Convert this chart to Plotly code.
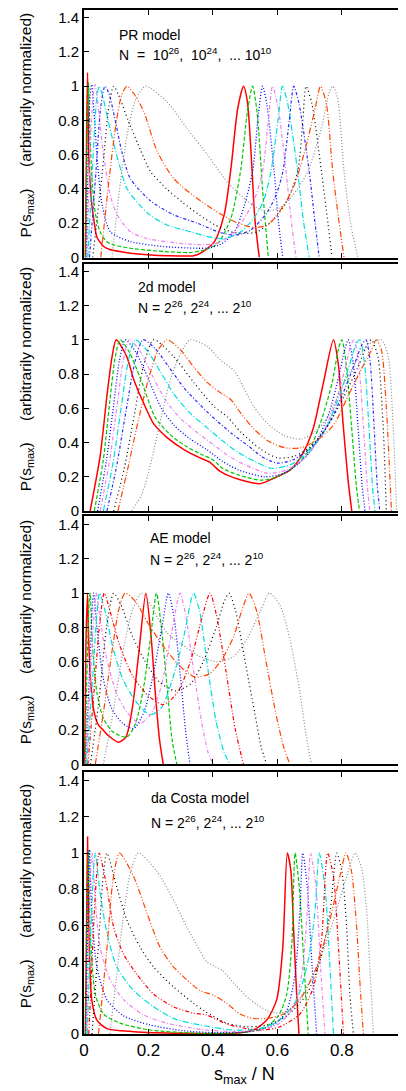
import plotly.graph_objects as go

# ---- PR model: (s_max/N, P) pairs, N = 10^26 ... 10^10
pr26 = [(0.004, 0), (0.008, 0.7), (0.011, 1.08), (0.015, 0.6), (0.022, 0.35), (0.032, 0.2), (0.04, 0.12),
        (0.061, 0.064), (0.082, 0.045), (0.123, 0.031), (0.144, 0.025), (0.197, 0.016), (0.26, 0.01),
        (0.34, 0.01), (0.362, 0.025), (0.404, 0.09), (0.435, 0.25), (0.456, 0.52), (0.477, 0.87),
        (0.495, 1.0), (0.507, 0.91), (0.52, 0.56), (0.53, 0.23), (0.544, 0)]
pr24 = [(0.005, 0), (0.01, 0.7), (0.014, 1.02), (0.019, 0.7), (0.026, 0.42), (0.036, 0.25), (0.05, 0.15),
        (0.07, 0.093), (0.092, 0.074), (0.144, 0.054), (0.247, 0.035), (0.327, 0.029), (0.367, 0.04),
        (0.414, 0.08), (0.456, 0.23), (0.487, 0.52), (0.507, 0.85), (0.523, 1.0), (0.537, 0.85),
        (0.554, 0.4), (0.572, 0)]
pr22 = [(0.007, 0), (0.013, 0.6), (0.019, 0.95), (0.024, 1.01), (0.031, 0.85), (0.042, 0.55), (0.057, 0.3),
        (0.082, 0.15), (0.144, 0.093), (0.247, 0.064), (0.352, 0.054), (0.387, 0.056), (0.427, 0.08),
        (0.467, 0.15), (0.497, 0.3), (0.523, 0.5), (0.542, 0.85), (0.554, 1.0), (0.567, 0.9),
        (0.59, 0.5), (0.604, 0.2), (0.617, 0)]
pr20 = [(0.009, 0), (0.019, 0.6), (0.027, 0.92), (0.034, 1.01), (0.043, 0.9), (0.057, 0.65), (0.082, 0.36),
        (0.103, 0.25), (0.144, 0.15), (0.197, 0.11), (0.297, 0.083), (0.362, 0.075), (0.407, 0.08),
        (0.447, 0.12), (0.487, 0.2), (0.527, 0.33), (0.554, 0.5), (0.572, 0.8), (0.585, 1.0),
        (0.602, 0.88), (0.627, 0.5), (0.644, 0.2), (0.658, 0)]
pr18 = [(0.012, 0), (0.027, 0.55), (0.039, 0.92), (0.047, 1.0), (0.057, 0.95), (0.077, 0.78), (0.107, 0.56),
        (0.134, 0.4), (0.197, 0.26), (0.257, 0.19), (0.331, 0.15), (0.387, 0.12), (0.437, 0.11),
        (0.487, 0.15), (0.527, 0.23), (0.557, 0.33), (0.58, 0.5), (0.602, 0.8), (0.616, 1.0),
        (0.632, 0.9), (0.663, 0.5), (0.682, 0.2), (0.699, 0)]
pr16 = [(0.017, 0), (0.037, 0.5), (0.052, 0.88), (0.065, 1.0), (0.077, 0.96), (0.097, 0.8), (0.117, 0.62),
        (0.144, 0.46), (0.207, 0.33), (0.277, 0.25), (0.352, 0.2), (0.417, 0.15), (0.467, 0.13),
        (0.517, 0.16), (0.567, 0.26), (0.597, 0.37), (0.617, 0.5), (0.637, 0.8), (0.651, 1.0),
        (0.667, 0.9), (0.699, 0.5), (0.717, 0.2), (0.73, 0)]
pr14 = [(0.027, 0), (0.057, 0.5), (0.077, 0.88), (0.092, 1.0), (0.107, 0.95), (0.137, 0.8), (0.177, 0.62),
        (0.207, 0.5), (0.257, 0.4), (0.307, 0.32), (0.357, 0.25), (0.407, 0.19), (0.457, 0.15),
        (0.497, 0.14), (0.537, 0.15), (0.587, 0.22), (0.627, 0.32), (0.663, 0.5), (0.679, 0.8),
        (0.689, 1.0), (0.707, 0.9), (0.737, 0.5), (0.757, 0.2), (0.77, 0)]
pr12 = [(0.052, 0), (0.077, 0.44), (0.097, 0.75), (0.117, 0.95), (0.134, 1.0), (0.157, 0.95), (0.186, 0.85),
        (0.227, 0.62), (0.279, 0.46), (0.362, 0.33), (0.466, 0.21), (0.527, 0.175), (0.57, 0.19),
        (0.622, 0.31), (0.652, 0.42), (0.682, 0.6), (0.715, 0.85), (0.734, 1.0), (0.752, 0.9),
        (0.772, 0.5), (0.792, 0.2), (0.807, 0)]
pr10 = [(0.087, 0), (0.113, 0.44), (0.137, 0.75), (0.162, 0.93), (0.191, 1.0), (0.257, 0.91), (0.321, 0.75),
        (0.383, 0.6), (0.445, 0.44), (0.507, 0.33), (0.547, 0.28), (0.57, 0.27), (0.607, 0.29),
        (0.647, 0.36), (0.694, 0.5), (0.736, 0.75), (0.762, 0.97), (0.772, 1.0), (0.787, 0.93),
        (0.807, 0.5), (0.827, 0.2), (0.85, 0)]

# ---- 2d model, N = 2^26 ... 2^10
d26 = [(0.019, 0), (0.05, 0.32), (0.071, 0.67), (0.087, 0.9), (0.1, 1.0), (0.133, 0.9), (0.154, 0.77),
       (0.185, 0.63), (0.216, 0.51), (0.257, 0.43), (0.309, 0.36), (0.36, 0.31), (0.39, 0.285),
       (0.42, 0.235), (0.464, 0.195), (0.545, 0.16), (0.587, 0.19), (0.64, 0.24), (0.68, 0.34),
       (0.711, 0.48), (0.743, 0.75), (0.774, 1.0), (0.789, 0.86), (0.804, 0.51), (0.82, 0.17), (0.831, 0)]
d24 = [(0.032, 0), (0.06, 0.3), (0.08, 0.64), (0.097, 0.9), (0.112, 1.0), (0.14, 0.93), (0.18, 0.75),
       (0.22, 0.55), (0.265, 0.45), (0.315, 0.38), (0.365, 0.33), (0.4, 0.3), (0.43, 0.25), (0.48, 0.21),
       (0.55, 0.18), (0.6, 0.2), (0.66, 0.27), (0.7, 0.36), (0.74, 0.55), (0.77, 0.75), (0.79, 0.95),
       (0.8, 1.0), (0.813, 0.87), (0.83, 0.5), (0.845, 0.15), (0.855, 0)]
d22 = [(0.042, 0), (0.07, 0.3), (0.092, 0.62), (0.11, 0.88), (0.128, 1.0), (0.16, 0.93), (0.2, 0.77),
       (0.24, 0.6), (0.28, 0.5), (0.33, 0.42), (0.38, 0.36), (0.43, 0.29), (0.48, 0.24), (0.56, 0.2),
       (0.62, 0.22), (0.68, 0.3), (0.72, 0.4), (0.76, 0.57), (0.79, 0.78), (0.81, 0.95), (0.82, 1.0),
       (0.835, 0.87), (0.85, 0.5), (0.863, 0.15), (0.872, 0)]
d20 = [(0.05, 0), (0.08, 0.3), (0.103, 0.62), (0.122, 0.88), (0.141, 1.0), (0.175, 0.93), (0.215, 0.78),
       (0.255, 0.64), (0.3, 0.54), (0.35, 0.46), (0.4, 0.39), (0.45, 0.32), (0.5, 0.27), (0.57, 0.22),
       (0.63, 0.24), (0.69, 0.32), (0.74, 0.45), (0.78, 0.63), (0.81, 0.83), (0.828, 0.97), (0.838, 1.0),
       (0.852, 0.87), (0.867, 0.5), (0.879, 0.15), (0.887, 0)]
d18 = [(0.06, 0), (0.09, 0.28), (0.115, 0.6), (0.138, 0.88), (0.159, 1.0), (0.195, 0.94), (0.235, 0.82),
       (0.28, 0.68), (0.33, 0.57), (0.38, 0.49), (0.43, 0.41), (0.48, 0.34), (0.53, 0.29), (0.58, 0.25),
       (0.64, 0.27), (0.7, 0.35), (0.75, 0.48), (0.79, 0.66), (0.825, 0.86), (0.845, 0.98), (0.856, 1.0),
       (0.87, 0.87), (0.884, 0.5), (0.895, 0.15), (0.903, 0)]
d16 = [(0.071, 0), (0.1, 0.25), (0.13, 0.58), (0.158, 0.87), (0.183, 1.0), (0.22, 0.95), (0.26, 0.85),
       (0.31, 0.72), (0.36, 0.62), (0.41, 0.53), (0.46, 0.45), (0.51, 0.38), (0.55, 0.32), (0.6, 0.28),
       (0.65, 0.3), (0.71, 0.38), (0.76, 0.51), (0.8, 0.67), (0.84, 0.86), (0.862, 0.97), (0.875, 1.0),
       (0.888, 0.87), (0.9, 0.5), (0.91, 0.15), (0.918, 0)]
d14 = [(0.092, 0), (0.125, 0.25), (0.155, 0.55), (0.185, 0.85), (0.216, 1.0), (0.279, 0.9), (0.341, 0.75),
       (0.404, 0.61), (0.445, 0.55), (0.487, 0.46), (0.549, 0.36), (0.601, 0.31), (0.653, 0.32),
       (0.705, 0.38), (0.757, 0.5), (0.807, 0.67), (0.85, 0.84), (0.881, 0.98), (0.892, 1.0),
       (0.912, 0.9), (0.928, 0.51), (0.938, 0)]
d12 = [(0.105, 0), (0.135, 0.24), (0.165, 0.5), (0.2, 0.77), (0.23, 0.94), (0.258, 1.0), (0.3, 0.94),
       (0.341, 0.84), (0.383, 0.75), (0.424, 0.69), (0.456, 0.65), (0.487, 0.57), (0.527, 0.48),
       (0.57, 0.41), (0.622, 0.37), (0.674, 0.37), (0.736, 0.43), (0.777, 0.51), (0.819, 0.67),
       (0.861, 0.83), (0.892, 0.94), (0.907, 1.0), (0.923, 0.94), (0.938, 0.61), (0.954, 0)]
d10 = [(0.148, 0), (0.18, 0.1), (0.21, 0.3), (0.24, 0.55), (0.27, 0.78), (0.3, 0.92), (0.33, 1.0),
       (0.383, 0.96), (0.424, 0.88), (0.466, 0.82), (0.487, 0.75), (0.527, 0.61), (0.57, 0.51),
       (0.622, 0.44), (0.674, 0.42), (0.715, 0.46), (0.757, 0.55), (0.797, 0.71), (0.84, 0.86),
       (0.881, 0.97), (0.923, 1.0), (0.944, 0.9), (0.959, 0.51), (0.97, 0)]

# ---- AE model, N = 2^26 ... 2^10
ae26 = [(0.002, 0), (0.006, 0.7), (0.011, 1.0), (0.015, 0.7), (0.022, 0.45), (0.032, 0.3), (0.045, 0.23),
        (0.06, 0.2), (0.075, 0.17), (0.107, 0.13), (0.13, 0.16), (0.15, 0.33), (0.17, 0.65), (0.192, 1.0),
        (0.208, 0.75), (0.222, 0.4), (0.234, 0.15), (0.246, 0)]
ae24 = [(0.003, 0), (0.01, 0.6), (0.016, 0.95), (0.019, 1.0), (0.026, 0.7), (0.04, 0.42), (0.06, 0.27),
        (0.09, 0.19), (0.133, 0.16), (0.16, 0.24), (0.185, 0.45), (0.207, 0.75), (0.225, 1.0), (0.24, 0.8),
        (0.258, 0.45), (0.273, 0.15), (0.288, 0)]
ae22 = [(0.005, 0), (0.016, 0.5), (0.025, 0.9), (0.03, 1.0), (0.04, 0.8), (0.06, 0.5), (0.085, 0.33),
        (0.12, 0.24), (0.154, 0.21), (0.185, 0.3), (0.21, 0.48), (0.24, 0.78), (0.262, 1.0), (0.28, 0.85),
        (0.3, 0.5), (0.315, 0.2), (0.329, 0)]
ae20 = [(0.006, 0), (0.02, 0.5), (0.032, 0.9), (0.038, 1.0), (0.05, 0.85), (0.07, 0.62), (0.1, 0.42),
        (0.135, 0.3), (0.174, 0.24), (0.21, 0.3), (0.24, 0.46), (0.27, 0.75), (0.298, 1.0), (0.315, 0.88),
        (0.34, 0.55), (0.365, 0.25), (0.385, 0.07), (0.402, 0)]
ae18 = [(0.008, 0), (0.025, 0.45), (0.04, 0.88), (0.048, 1.0), (0.065, 0.9), (0.09, 0.68), (0.12, 0.5),
        (0.16, 0.37), (0.205, 0.29), (0.24, 0.33), (0.275, 0.5), (0.31, 0.75), (0.34, 1.0), (0.358, 0.9),
        (0.385, 0.55), (0.41, 0.25), (0.435, 0.07), (0.453, 0)]
ae16 = [(0.012, 0), (0.03, 0.4), (0.05, 0.85), (0.063, 1.0), (0.08, 0.9), (0.11, 0.7), (0.15, 0.52),
        (0.2, 0.4), (0.246, 0.35), (0.29, 0.42), (0.33, 0.6), (0.365, 0.85), (0.391, 1.0), (0.41, 0.88),
        (0.44, 0.55), (0.47, 0.2), (0.495, 0)]
ae14 = [(0.02, 0), (0.045, 0.35), (0.07, 0.8), (0.092, 1.0), (0.115, 0.93), (0.15, 0.75), (0.19, 0.6),
        (0.235, 0.48), (0.283, 0.43), (0.33, 0.47), (0.37, 0.6), (0.41, 0.8), (0.435, 0.95), (0.45, 1.0),
        (0.47, 0.9), (0.5, 0.6), (0.53, 0.3), (0.55, 0.1), (0.567, 0)]
ae12 = [(0.035, 0), (0.06, 0.3), (0.09, 0.7), (0.11, 0.92), (0.128, 1.0), (0.16, 0.95), (0.2, 0.82),
        (0.25, 0.68), (0.3, 0.57), (0.345, 0.51), (0.39, 0.53), (0.43, 0.62), (0.465, 0.75), (0.49, 0.9),
        (0.512, 1.0), (0.535, 0.9), (0.565, 0.6), (0.595, 0.3), (0.62, 0.1), (0.639, 0)]
ae10 = [(0.06, 0), (0.09, 0.3), (0.12, 0.65), (0.15, 0.9), (0.179, 1.0), (0.257, 0.77), (0.319, 0.68),
        (0.36, 0.63), (0.412, 0.6), (0.464, 0.63), (0.505, 0.73), (0.546, 0.89), (0.575, 1.0),
        (0.608, 0.93), (0.639, 0.73), (0.67, 0.42), (0.691, 0.15), (0.706, 0)]

# ---- da Costa model, N = 2^26 ... 2^10
dc26 = [(0.004, 0), (0.008, 0.6), (0.011, 1.09), (0.015, 0.59), (0.024, 0.19), (0.04, 0.077), (0.071, 0.03),
        (0.154, 0.013), (0.309, 0.004), (0.464, 0.004), (0.526, 0.022), (0.567, 0.077), (0.598, 0.19),
        (0.617, 0.48), (0.631, 1.0), (0.642, 0.9), (0.65, 0.59), (0.66, 0.22), (0.667, 0)]
dc24 = [(0.005, 0), (0.01, 0.65), (0.014, 1.01), (0.019, 0.59), (0.035, 0.22), (0.061, 0.11), (0.112, 0.06),
        (0.205, 0.022), (0.36, 0.004), (0.484, 0.007), (0.557, 0.03), (0.603, 0.1), (0.629, 0.22),
        (0.645, 0.5), (0.655, 1.0), (0.668, 0.81), (0.683, 0.37), (0.696, 0)]
dc22 = [(0.006, 0), (0.012, 0.65), (0.017, 1.02), (0.024, 0.68), (0.04, 0.37), (0.071, 0.19), (0.123, 0.1),
        (0.205, 0.05), (0.309, 0.018), (0.412, 0.007), (0.515, 0.013), (0.588, 0.05), (0.629, 0.13),
        (0.655, 0.33), (0.67, 0.68), (0.679, 1.0), (0.693, 0.81), (0.708, 0.37), (0.722, 0)]
dc20 = [(0.008, 0), (0.016, 0.6), (0.021, 0.92), (0.025, 1.0), (0.035, 0.74), (0.05, 0.48), (0.081, 0.3),
        (0.123, 0.19), (0.185, 0.105), (0.257, 0.06), (0.36, 0.026), (0.464, 0.013), (0.546, 0.022),
        (0.608, 0.06), (0.65, 0.15), (0.676, 0.33), (0.693, 0.68), (0.703, 1.0), (0.72, 0.81),
        (0.734, 0.37), (0.748, 0)]
dc18 = [(0.01, 0), (0.022, 0.6), (0.03, 0.92), (0.035, 1.0), (0.05, 0.78), (0.071, 0.56), (0.102, 0.37),
        (0.154, 0.24), (0.216, 0.15), (0.278, 0.086), (0.36, 0.05), (0.464, 0.022), (0.546, 0.03),
        (0.608, 0.077), (0.66, 0.19), (0.696, 0.41), (0.717, 0.68), (0.73, 1.0), (0.748, 0.81),
        (0.762, 0.41), (0.774, 0)]
dc16 = [(0.015, 0), (0.03, 0.6), (0.04, 0.9), (0.047, 1.0), (0.071, 0.81), (0.092, 0.59), (0.123, 0.44),
        (0.164, 0.33), (0.216, 0.22), (0.278, 0.15), (0.34, 0.115), (0.38, 0.105), (0.443, 0.055),
        (0.505, 0.03), (0.557, 0.022), (0.608, 0.04), (0.67, 0.11), (0.712, 0.26), (0.737, 0.52),
        (0.756, 1.0), (0.774, 0.87), (0.789, 0.5), (0.805, 0)]
dc14 = [(0.025, 0), (0.045, 0.5), (0.06, 0.88), (0.071, 1.0), (0.102, 0.81), (0.133, 0.63), (0.174, 0.48),
        (0.216, 0.37), (0.278, 0.26), (0.34, 0.17), (0.376, 0.125), (0.443, 0.06), (0.505, 0.04),
        (0.567, 0.05), (0.629, 0.1), (0.691, 0.22), (0.733, 0.41), (0.764, 0.68), (0.784, 1.0),
        (0.8, 0.9), (0.815, 0.59), (0.825, 0.22), (0.836, 0)]
dc12 = [(0.045, 0), (0.07, 0.45), (0.09, 0.85), (0.11, 1.0), (0.154, 0.87), (0.195, 0.67), (0.236, 0.48),
        (0.278, 0.37), (0.319, 0.3), (0.36, 0.24), (0.401, 0.215), (0.443, 0.17), (0.484, 0.11),
        (0.526, 0.086), (0.567, 0.086), (0.619, 0.11), (0.67, 0.19), (0.722, 0.37), (0.763, 0.63),
        (0.794, 0.87), (0.813, 1.0), (0.83, 0.9), (0.846, 0.59), (0.857, 0.26), (0.867, 0)]
dc10 = [(0.08, 0), (0.1, 0.3), (0.12, 0.62), (0.145, 0.9), (0.169, 1.0), (0.226, 0.9), (0.278, 0.74),
        (0.319, 0.59), (0.36, 0.46), (0.38, 0.4), (0.41, 0.37), (0.43, 0.35), (0.47, 0.27),
        (0.515, 0.19), (0.567, 0.13), (0.608, 0.115), (0.65, 0.15), (0.691, 0.26), (0.732, 0.41),
        (0.774, 0.63), (0.815, 0.87), (0.841, 1.0), (0.861, 0.92), (0.877, 0.68), (0.887, 0.37), (0.898, 0)]

panels = [
    ([pr26, pr24, pr22, pr20, pr18, pr16, pr14, pr12, pr10], "PR model",
     "N\u00a0\u00a0=\u00a0\u00a010<sup>26</sup>,\u00a0\u00a010<sup>24</sup>,\u00a0\u00a0...\u00a010<sup>10</sup>"),
    ([d26, d24, d22, d20, d18, d16, d14, d12, d10], "2d model",
     "N = 2<sup>26</sup>, 2<sup>24</sup>, ... 2<sup>10</sup>"),
    ([ae26, ae24, ae22, ae20, ae18, ae16, ae14, ae12, ae10], "AE model",
     "N = 2<sup>26</sup>, 2<sup>24</sup>, ... 2<sup>10</sup>"),
    ([dc26, dc24, dc22, dc20, dc18, dc16, dc14, dc12, dc10], "da Costa model",
     "N = 2<sup>26</sup>, 2<sup>24</sup>, ... 2<sup>10</sup>"),
]

# gnuplot-like line styles (colour, dash, width)
styles = [
    ("#ff0000", "solid", 1.5),
    ("#00c800", "4px,2px", 1.2),
    ("#0000ff", "1px,2px", 1.3),
    ("#ee82ee", "4px,2px,1px,2px", 1.2),
    ("#00dede", "6px,2px,1px,2px", 1.2),
    ("#2a2aff", "3px,2px,1px,2px", 1.2),
    ("#000000", "1px,3px", 1.2),
    ("#ff4500", "6px,2px,1px,2px,1px,2px", 1.2),
    ("#8c8c8c", "1px,2px", 1.2),
]
sixth_red = ("#ff0000", "4px,2px,1px,2px,1px,2px", 1.2)

# the page body adds an 8px margin, so the figure is 8px smaller than the window
domains = [[0.7583, 1.0], [0.5107, 0.7524], [0.2632, 0.5058], [0.0, 0.2554]]
ymax = [1.445, 1.445, 1.45, 1.445]
ytitle_y = [0.8874, 0.6394, 0.3923, 0.1345]
label_y = [(1.3, 1.19), (1.307, 1.19), (1.32, 1.2), (1.306, 1.174)]
label_x = [0.103, 0.162, 0.199, 0.202]

FONT = "Liberation Sans, Arial, Helvetica, sans-serif"

fig = go.Figure()
annotations = []

for i, (curves, name, nline) in enumerate(panels):
    k = i + 1
    xa = "x" if k == 1 else f"x{k}"
    ya = "y" if k == 1 else f"y{k}"
    for j, pts in enumerate(curves):
        color, dash, width = styles[j]
        if j == 5 and i >= 2:
            color, dash, width = sixth_red
        fig.add_trace(go.Scatter(
            x=[p[0] for p in pts], y=[p[1] for p in pts], mode="lines",
            line=dict(color=color, dash=dash, width=width, shape="spline", smoothing=0.7),
            xaxis=xa, yaxis=ya, hoverinfo="skip"))

    annotations.append(dict(xref=xa, yref=ya, x=label_x[i], y=label_y[i][0], text=name,
                            showarrow=False, xanchor="left", yanchor="middle",
                            font=dict(family=FONT, size=14, color="black")))
    annotations.append(dict(xref=xa, yref=ya, x=label_x[i], y=label_y[i][1], text=nline,
                            showarrow=False, xanchor="left", yanchor="middle",
                            font=dict(family=FONT, size=14, color="black")))
    annotations.append(dict(xref="paper", yref="paper", x=-0.181, y=ytitle_y[i],
                            text="P(s<sub>max</sub>)\u00a0\u00a0\u00a0\u00a0\u00a0(arbitrarily normalized)",
                            textangle=-90, showarrow=False, xanchor="center", yanchor="middle",
                            font=dict(family=FONT, size=15.5, color="black")))

    axis_common = dict(showline=True, linecolor="black", linewidth=2, mirror="ticks",
                       ticks="inside", ticklen=5, tickwidth=1, tickcolor="black",
                       showgrid=False, zeroline=False)
    fig.layout[f"xaxis{'' if k == 1 else k}"] = dict(
        axis_common, range=[0, 0.993], tickvals=[0, 0.2, 0.4, 0.6, 0.8], ticktext=["0", "0.2", "0.4", "0.6", "0.8"],
        anchor=ya, showticklabels=(k == 4), tickfont=dict(family=FONT, size=17, color="black"))
    fig.layout[f"yaxis{'' if k == 1 else k}"] = dict(
        axis_common, range=[0, ymax[i]], domain=domains[i], anchor=xa,
        tickvals=[0, 0.2, 0.4, 0.6, 0.8, 1.0, 1.2, 1.4],
        ticktext=["0", "0.2", "0.4", "0.6", "0.8", "1", "1.2", "1.4"],
        tickfont=dict(family=FONT, size=15, color="black"))

annotations.append(dict(xref="paper", yref="paper", x=0.5, y=-0.0409, text="s<sub>max</sub> / N",
                        showarrow=False, xanchor="center", yanchor="middle",
                        font=dict(family=FONT, size=18, color="black")))

fig.update_layout(width=398, height=1083, margin=dict(l=76, r=2, t=0, b=57),
                  paper_bgcolor="white", plot_bgcolor="white", showlegend=False,
                  annotations=annotations)

fig.write_html("out.html")
